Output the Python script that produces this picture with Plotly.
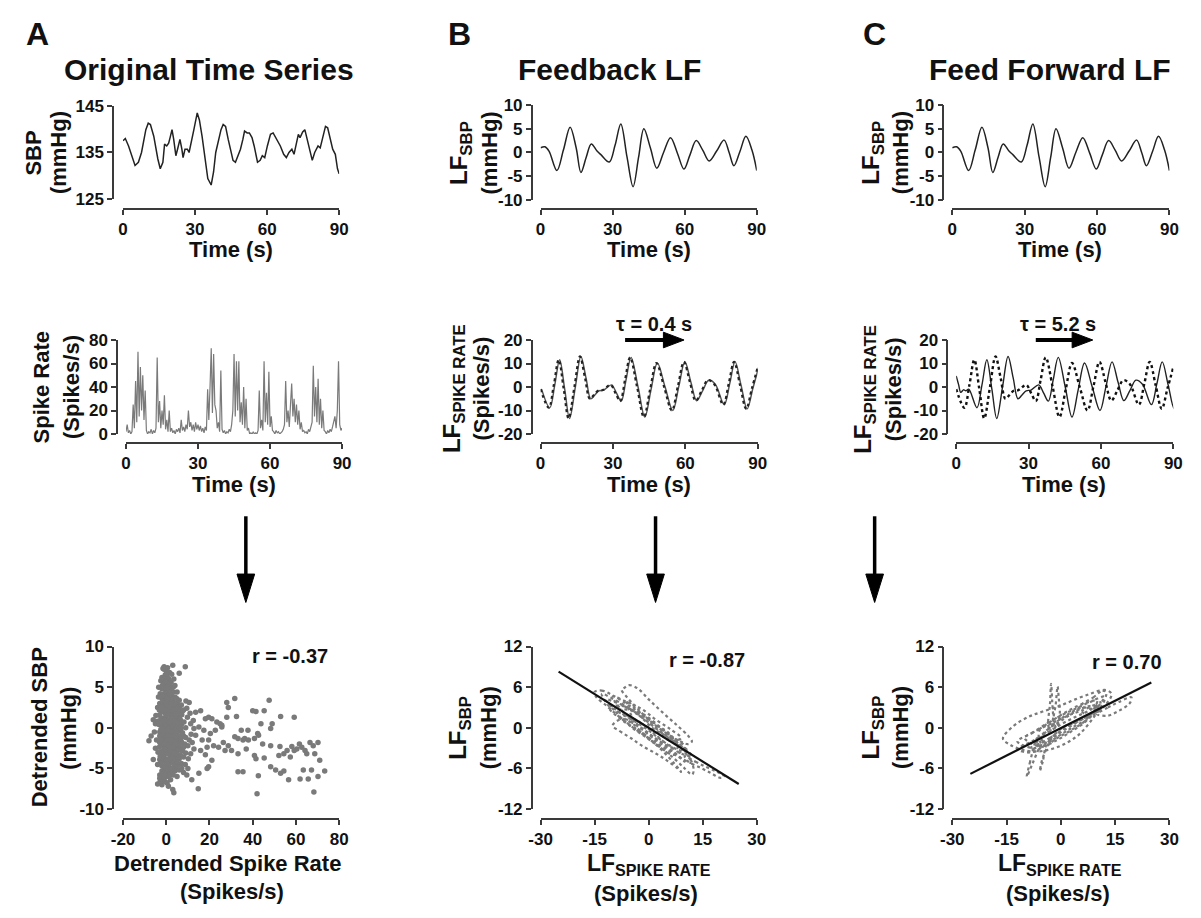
import plotly.graph_objects as go

W, H = 1201, 918
def px(x):
    return x / W
def py(y):
    return 1 - y / H

FONT = "Liberation Sans"
INK = "#111111"
AXC = "#3a3a3a"
GRAY = "#7a7a7a"

# ------------------------------------------------------------------ data
# A, top: original systolic blood pressure (mmHg) vs time (s)
sbp_t = [0, 0.95, 2.3, 5.0, 6.4, 7.7, 9.5, 10.5, 11.4, 12.8, 14.5, 15.5, 16.6, 17.3, 18.2,
         19.0, 19.6, 20.4, 21.1, 22.0, 22.7, 23.7, 24.5, 25.0, 25.8, 26.8, 27.5, 28.5, 29.5,
         30.9, 31.8, 32.9, 34.3, 35.3, 36.7, 37.7, 38.6, 39.7, 40.8, 41.7, 42.7, 43.8, 44.9,
         45.8, 46.8, 47.9, 48.9, 49.9, 50.6, 51.7, 52.6, 53.7, 54.6, 56.0, 57.1, 58.0, 59.0,
         60.1, 61.4, 62.5, 63.5, 64.4, 65.5, 66.9, 68.0, 69.1, 70.3, 71.2, 72.0, 73.0, 73.7,
         74.8, 75.7, 76.7, 77.8, 78.8, 79.8, 81.2, 82.1, 83.2, 84.3, 85.2, 86.2, 87.3, 88.4,
         89.3, 90.0]
sbp = [137.5, 138, 136.4, 132.2, 132.9, 135, 139.9, 141.3, 141, 138.5, 133.6, 131.5, 132.9,
       136.8, 136.4, 137, 138.2, 139.9, 137.8, 134.3, 135.7, 137.8, 135.7, 133.9, 135.7, 135.7,
       135, 137.8, 139.9, 143.5, 142, 138.5, 133, 129.4, 128, 130.8, 135, 137.8, 139.9, 141,
       140.6, 137.8, 135, 133.3, 132.9, 134.3, 135.7, 137.8, 139.6, 139.2, 139.2, 138.2, 136.4,
       132.9, 133.3, 134.3, 133.9, 136.4, 138.9, 139.2, 138.2, 137.5, 136.4, 134.6, 133.9, 135,
       135.7, 134.6, 136.4, 138.9, 138.2, 139.4, 139.9, 137.8, 135, 133.3, 135, 136.4, 136,
       138.5, 140.6, 140.3, 137.8, 135.7, 134.6, 131.5, 130.4]

# B/C, top: low-frequency SBP component (mmHg)
lf_sbp_t = [0, 1.8, 3.5, 6.8, 9.5, 12.3, 14.8, 16.8, 19.0, 21.1, 23.5, 25.2, 28.6, 31.0, 33.4,
            36.0, 38.5, 40.8, 43.0, 45.7, 48.4, 51.2, 54.1, 57.0, 59.7, 62.2, 64.8, 67.5, 70.2,
            73.3, 76.4, 78.5, 80.5, 83.0, 85.5, 88.0, 90.0]
lf_sbp = [1.0, 1.2, 0.3, -3.8, 0.5, 5.3, 1.0, -4.2, -1.0, 1.8, 0.3, -0.5, -2.0, 1.5, 6.0,
          -1.0, -7.2, -1.0, 5.0, 1.0, -3.3, 0.0, 3.1, -0.2, -3.5, -0.5, 2.5, 0.5, -1.8,
          0.3, 2.6, 0.0, -2.8, 0.2, 3.4, 0.5, -3.8]

# A, middle: spike rate (spikes/s), one value every 0.5 s (rows of 5 s)
spike_rate_rows = [
    [2, 8, 1, 3, 0, 2, 25, 5, 45, 10],
    [70, 15, 57, 20, 50, 12, 37, 3, 0, 2],
    [1, 4, 0, 3, 1, 5, 65, 10, 28, 5],
    [20, 8, 33, 4, 12, 2, 20, 2, 5, 1],
    [3, 0, 4, 2, 5, 1, 12, 3, 6, 2],
    [8, 4, 20, 6, 10, 3, 8, 2, 10, 4],
    [8, 3, 7, 2, 5, 1, 6, 3, 38, 12],
    [40, 73, 18, 68, 25, 20, 5, 10, 2, 54],
    [4, 1, 3, 0, 2, 1, 4, 2, 8, 20],
    [68, 15, 62, 20, 62, 10, 27, 8, 40, 5],
    [30, 3, 5, 0, 1, 0, 2, 0, 1, 0],
    [3, 37, 5, 12, 3, 62, 10, 35, 8, 53],
    [6, 15, 3, 2, 0, 3, 1, 2, 0, 1],
    [2, 4, 8, 45, 10, 20, 6, 25, 43, 15],
    [30, 10, 25, 8, 20, 4, 10, 2, 3, 1],
    [2, 0, 4, 2, 6, 10, 58, 15, 40, 10],
    [47, 8, 30, 5, 20, 3, 2, 0, 3, 1],
    [4, 2, 6, 10, 15, 5, 20, 62, 8, 3],
    [5],
]
spike_rate = [v for row in spike_rate_rows for v in row]
spike_t = [i * 0.5 for i in range(len(spike_rate))]

# B/C, middle: low-frequency spike rate (spikes/s)
lf_spike_t = [0.0, 3.4, 5.5, 7.5, 9.6, 11.6, 14.0, 16.3, 18.4, 20.4, 22.0, 23.8, 25.8, 29.0,
              31.0, 33.0, 35.0, 37.1, 40.0, 42.8, 45.4, 48.0, 51.2, 54.4, 56.9, 59.4, 61.9,
              64.3, 66.8, 69.3, 72.0, 75.7, 78.0, 80.2, 82.7, 85.2, 87.6, 90.0]
lf_spike = [-0.9, -8.8, 1.0, 11.6, -1.0, -13.4, 0.0, 13.0, 4.0, -5.0, -3.5, -1.6, -1.3, 0.9,
            -2.5, -6.0, 3.0, 12.6, 0.0, -12.8, -1.0, 10.2, 0.0, -10.0, 0.3, 10.7, 2.0,
            -5.8, -1.5, 2.9, 1.2, -7.5, 1.5, 10.7, 0.7, -9.3, -0.5, 8.4]
tau_b = 0.4
tau_c = 5.2
# start of the shifted trace in C (before the shifted series begins)
lf_spike_c_lead_t = [0.0, 1.0, 1.9, 3.0, 4.0]
lf_spike_c_lead = [4.7, 1.0, -2.3, -1.2, -1.6]

# A, bottom: detrended spike rate vs detrended SBP
scatter_a_points = [
    (-1, 7.5), (0, 7.0), (-0.5, 6.5), (0.5, 6.2), (1, 5.8), (-1, 5.5), (0, 5.2), (2, 5.0),
    (-2, 4.8), (1, 4.5), (3, 4.4), (-1, 4.2), (0.5, 4.0), (4, 3.8), (-2, 3.6), (2, 3.5),
    (0, 3.3), (-3, 3.0), (1, 3.0), (5, 3.0), (3, 2.8), (-1, 2.6), (6, 2.5), (0, 2.4),
    (2, 2.2), (-2, 2.0), (4, 2.0), (8, 2.2), (1, 1.8), (-3, 1.6), (3, 1.5), (0, 1.4),
    (6, 1.3), (-1, 1.2), (2, 1.0), (5, 0.9), (-4, 0.8), (1, 0.6), (4, 0.5), (7, 0.4),
    (-2, 0.3), (0, 0.2), (3, 0.1), (9, 0.0), (-1, -0.1), (2, -0.3), (6, -0.4), (-3, -0.5),
    (1, -0.6), (4, -0.8), (0, -0.9), (8, -1.0), (-2, -1.1), (3, -1.2), (-1, -1.4), (5, -1.5),
    (1, -1.6), (7, -1.7), (-3, -1.8), (2, -2.0), (0, -2.1), (4, -2.3), (-1, -2.4), (6, -2.5),
    (1, -2.7), (-2, -2.9), (3, -3.0), (0, -3.2), (9, -3.1), (-1, -3.4), (2, -3.6), (5, -3.7),
    (-3, -3.9), (1, -4.0), (4, -4.2), (0, -4.5), (-2, -4.7), (3, -4.9), (7, -4.4), (-1, -5.2),
    (2, -5.5), (-3, -5.8), (0, -6.0), (-4, -6.9), (-2, -7.0), (1, -7.2), (3, -7.6), (3.5, -8.0),
    (-1.5, -6.5), (5, -6.0), (8, -5.5), (10, -5.0), (6, -5.2),
    (-8, -1.6), (-7, -1.0), (-6, -3.9), (-5, 0.5), (-5, -2.5), (-6, 1.0), (-4, -4.5), (-4, 2.5),
    (-3.5, 5.0), (-3, -6.2),
    (-2.5, 5.8), (1.5, 6.8), (2.5, 4.0), (-0.5, 3.8), (1.5, 3.2), (-1.5, 2.8), (0.5, 2.6),
    (2.5, 2.5), (4.5, 2.6), (-2.5, 1.2), (-0.5, 1.8), (1.5, 2.0), (3.5, 1.9), (5.5, 1.8),
    (-1.5, 0.6), (0.5, 0.9), (2.5, 0.4), (4.5, 1.2), (6.5, 1.0), (-2.5, -0.2), (-0.5, 0.5),
    (1.5, 0.0), (3.5, -0.3), (5.5, -0.1), (7.5, -0.6), (-1.5, -0.8), (0.5, -1.1), (2.5, -1.0),
    (4.5, -1.3), (6.5, -1.2), (-2.5, -1.5), (-0.5, -1.7), (1.5, -1.9), (3.5, -1.8), (5.5, -2.2),
    (8.5, -2.0), (-1.5, -2.2), (0.5, -2.5), (2.5, -2.6), (4.5, -2.8), (7.5, -2.8), (-2.5, -3.2),
    (-0.5, -3.0), (1.5, -3.3), (3.5, -3.5), (6.5, -3.3), (0.5, -3.9), (2.5, -4.2), (-1.5, -4.1),
    (5.5, -4.6), (-0.5, -4.8), (1.5, -5.0), (4.0, -5.3), (0.5, -5.6), (-2.0, -5.3), (2.0, -6.4),
    (-0.5, -6.6), (0, 5.9), (1, 5.2), (-1, 4.8), (2, 4.6), (0, 4.5), (-1.5, 3.3), (3, 3.5),
    (0, 1.0), (-1, -0.4), (2, 1.5),
    (-2.8, 4.2), (-1.8, 5.2), (-0.8, 6.0), (0.2, 6.6), (1.2, 6.0), (2.2, 5.6), (3.2, 5.0),
    (-2.2, 3.9), (-0.2, 4.9), (0.8, 5.0), (1.8, 4.1), (2.8, 3.2), (3.8, 3.0), (4.8, 3.6),
    (-3.2, 2.2), (-2.2, 2.5), (-1.2, 2.0), (0.2, 2.9), (1.2, 2.5), (2.2, 2.9), (3.2, 2.2),
    (4.2, 1.6), (5.2, 2.3), (6.2, 2.0), (7.2, 1.6), (-3.4, 0.4), (-2.0, 0.9), (-0.8, 0.9),
    (0.8, 1.6), (1.8, 0.7), (2.8, 1.1), (3.8, 0.8), (4.8, 0.2), (5.8, 0.6), (6.8, -0.1),
    (8.2, 0.7), (-3.0, -1.0), (-1.8, -0.1), (-0.2, -0.4), (0.8, -0.2), (1.8, -0.9), (2.8, -0.5),
    (3.8, -1.0), (4.8, -0.6), (5.8, -1.0), (7.0, -1.2), (9.0, -1.2), (-3.2, -2.4), (-2.2, -2.0),
    (-0.8, -2.0), (0.2, -1.5), (1.2, -2.3), (2.2, -1.5), (3.2, -2.3), (4.2, -1.8), (5.2, -2.8),
    (6.2, -2.0), (8.0, -2.4), (10.0, -2.2), (-2.8, -3.5), (-1.8, -3.0), (-0.2, -2.7), (0.8, -3.0),
    (1.8, -2.8), (2.8, -3.8), (3.8, -3.0), (4.8, -3.2), (6.0, -3.8), (8.0, -3.6), (-2.6, -4.4),
    (-1.0, -3.8), (0.2, -4.0), (1.2, -4.5), (2.0, -4.0), (3.2, -4.3), (4.2, -4.8), (5.0, -4.2),
    (-1.8, -5.6), (-0.6, -5.6), (0.8, -5.0), (2.6, -5.0), (3.2, -5.8), (1.2, -6.0), (-1.2, -6.0),
    (0.4, -6.8), (-2.8, -6.6), (-1.0, 7.2), (0.6, 7.4), (-0.4, 5.6), (1.6, 5.4), (-2.0, 6.2),
    (0.5, 3.5), (-0.5, 2.2), (11, 1.8), (12, -1.8), (11.5, -0.8), (12.5, 0.9), (9.5, 2.4),
    (10.2, -3.8), (8.8, -4.5), (7.2, -5.0), (9.5, -5.8), (6, 3.4), (7, 2.8), (5, 4.4), (4, 5.2),
    (3.5, 6.0), (2.5, 6.6), (-4.5, -1.5), (-4.8, 1.5), (-5.5, -0.5), (-3.8, -3.0), (-3.6, 3.8),
    (3.0, 7.7), (6.0, 6.7), (8.8, 7.5), (-1.5, 7.3),
    (28, 3.1), (28.7, 2.5), (31.7, 3.6), (32.5, 1.4), (47.6, 3.4), (40, 2.1), (41.5, 2.0),
    (45.3, 2.1), (52.9, 1.4), (59.2, 1.3), (28, 1.3),
    (25.7, 0.1), (34.7, -0.3), (37.8, -0.3), (43.8, 0.5), (48.3, -0.1), (49, 0.5), (42.3, -0.7),
    (31.7, -1.1), (33.2, -1.3), (35.5, -1.5), (36.3, -1.3), (38, -1.5), (40.8, -1.3), (42.7, -0.9),
    (28.7, -2.2), (30.2, -2.8), (33.2, -3.2), (37, -2.6), (44.6, -2.0), (48.3, -2.2), (52.6, -2.3),
    (55.9, -2.8), (58.1, -2.3), (59.2, -2.8), (61.6, -2.0), (62.7, -2.4), (64.2, -2.8), (66.5, -1.8),
    (68, -2.2), (70.2, -1.8), (65, -3.2), (68.7, -3.2), (52.1, -3.4), (54.4, -3.2), (57.4, -3.6),
    (60.4, -2.6),
    (40.8, -3.4), (41.5, -3.8), (45.3, -3.7), (48.3, -4.8), (50.6, -5.2), (52.9, -5.6), (54.4, -5.3),
    (56.6, -6.4), (63.4, -5.2), (61.9, -6.3), (65.7, -6.3), (67.2, -5.2), (71, -4.0), (73.3, -5.3),
    (70.2, -6.0), (68.3, -7.9), (42, -8.1), (42.6, -5.9), (33.2, -5.4), (35.5, -5.4), (18.1, -3.3),
    (18.9, -5.0), (14.8, -7.5), (11.8, -6.4), (15.1, -5.6), (21.1, -4.0), (19.6, -4.8),
    (13.6, 1.9), (15.9, 2.1), (18.1, 1.1), (19.6, 1.3), (21.1, 1.1), (23.4, 0.7), (24.9, 0.5),
    (25.7, 0.3), (22.7, -0.3), (20.4, -0.7), (17.4, -0.3), (15.1, 0.1), (12.8, -0.1), (13.6, -0.9),
    (16.6, -1.5), (19.6, -1.5), (21.9, -2.2), (24.2, -2.4), (26.4, -1.8), (27.2, -2.8), (18.9, -2.4),
    (15.9, -2.8), (12.8, -2.6), (11.3, -3.2), (10.6, -1.5), (11.3, 0.5), (9.8, 1.3), (10.6, 3.1),
    (9.1, 3.3), (7.6, 2.1),
]
scatter_a_x = [p[0] for p in scatter_a_points]
scatter_a_y = [p[1] for p in scatter_a_points]

# B, bottom: LF spike rate vs LF SBP traced as loops
lf_b_loops_x = [
    [-15, -13, -10, -6, -2, 2, 6, 9, 11.5, 12.5, 12, 10, 7, 3, -1, -5, -9, -12, -14.5, -15],
    [-7, -5.5, -3, 0, 4, 8, 11, 12, 11, 8, 4, 0, -3, -6, -7.5, -7],
    [-10, -8, -5, -2, 2, 5, 8, 9, 7, 4, 1, -2, -5, -8, -10],
    [10, 13, 16, 19, 21, 20, 17, 14, 11, 10],
    [-12, -8, -4, 0, 4, 8, 11, 8, 4, 0, -4, -8, -12],
    [-9, -5, -1, 3, 7, 10, 7, 3, -1, -5, -9],
    [-6, -3, 0, 3, 6, 8, 5, 2, -1, -4, -6],
    [-13, -9, -5, -1, 3, 7, 11, 12, 9, 5, 1, -3, -7, -11, -13],
    [-11, -7, -3, 1, 5, 9, 12, 9, 5, 1, -3, -7, -11],
    [-8, -5, -2, 2, 5, 8, 10, 7, 3, -1, -4, -8],
    [-10, -6, -2, 2, 6, 9, 6, 2, -2, -6, -10],
]
lf_b_loops_y = [
    [5.3, 5.5, 4.8, 3.5, 2.0, 0.5, -1.2, -2.8, -4.5, -6.3, -6.9, -6.0, -4.5, -2.8, -1.2, 0.3, 2.0, 3.4, 4.5, 5.3],
    [5.8, 6.3, 5.8, 4.2, 2.2, 0.3, -1.2, -2.0, -2.4, -1.8, -0.5, 1.2, 2.8, 4.5, 5.6, 5.8],
    [0.3, -0.5, -1.5, -2.6, -3.8, -4.8, -6.0, -6.5, -5.2, -3.5, -2.0, -0.6, 0.8, 1.2, 0.3],
    [-4.2, -5.0, -5.8, -6.5, -7.2, -7.4, -6.6, -5.8, -5.0, -4.2],
    [4.2, 3.5, 2.3, 0.8, -0.8, -2.2, -3.5, -3.2, -2.0, -0.4, 1.0, 2.2, 4.2],
    [2.5, 2.6, 1.6, 0.0, -1.5, -2.8, -4.0, -2.8, -1.3, 0.2, 2.5],
    [4.0, 2.5, 1.5, 0.2, -1.0, -3.0, -2.6, -1.6, -0.5, 1.0, 4.0],
    [5.0, 4.0, 2.8, 1.2, -0.5, -2.0, -3.5, -4.2, -3.8, -2.4, -0.6, 1.0, 2.0, 3.2, 5.0],
    [3.0, 3.2, 2.0, 0.0, -1.3, -3.0, -5.2, -4.5, -3.2, -1.8, -0.3, 1.0, 3.0],
    [1.5, 0.9, -0.2, -1.8, -2.9, -4.0, -5.0, -3.6, -2.0, -0.4, 0.8, 1.5],
    [4.6, 3.8, 2.8, 1.2, -0.2, -1.5, -1.9, -0.5, 0.6, 1.8, 4.6],
]
reg_b_x = [-25, 25]
reg_b_y = [8.3, -8.3]

# C, bottom
lf_c_loops_x = [
    [-16, -13, -9, -5, 0, 4, 8, 11, 12.5, 12, 9, 5, 1, -3, -7, -11, -14, -16],
    [-3.5, -3.0, -2.7, -2.4, -2.2, -3.0, -3.5],
    [-2, -1.4, -0.9, -0.6, -0.3, -1.2, -2],
    [-7, -8.5, -9.4, -8, -6, -5, -6.5, -7],
    [-4, -5, -5.8, -5.2, -3.5, -2.5, -4],
    [10, 13, 16, 19.5, 19, 16, 13, 10],
    [5, 9, 12, 14, 12, 8, 5],
    [-12, -8, -4, 0, 4, 8, 11, 8, 4, 0, -4, -8, -12],
    [-10, -6, -2, 2, 6, 10, 7, 3, -1, -5, -10],
    [-7, -3, 1, 5, 9, 6, 2, -2, -7],
    [-12, -8, -4, 0, 4, 8, 12, 9, 5, 1, -3, -7, -12],
    [-9, -5, -1, 3, 7, 11, 8, 4, 0, -4, -9],
    [-6, -2, 2, 6, 10, 7, 3, -1, -5, -6],
]
lf_c_loops_y = [
    [-1.6, 0.3, 1.6, 2.4, 3.3, 4.2, 5.0, 5.5, 5.3, 4.0, 1.5, -1.0, -2.4, -3.2, -3.5, -3.2, -2.5, -1.6],
    [0.5, 3.5, 6.5, 4.0, 1.0, -0.5, 0.5],
    [1.0, 3.5, 6.1, 4.5, 2.0, 0.0, 1.0],
    [-2, -5, -7.2, -5.5, -3, -2, -1.5, -2],
    [-2.5, -5, -6.4, -4.8, -2.5, -1.5, -2.5],
    [2.0, 3.0, 3.8, 4.5, 3.6, 2.5, 1.8, 2.0],
    [3, 4.5, 5.6, 5.0, 3.2, 1.8, 3],
    [-3.2, -2.0, -0.8, 0.5, 1.6, 2.6, 3.8, 1.5, 0.3, -1.0, -2.4, -3.6, -3.2],
    [-1.5, -0.2, 1.2, 2.5, 3.5, 4.0, 1.2, -0.3, -1.5, -2.8, -1.5],
    [-2.5, -1.5, 0.2, 1.0, 2.5, 3.0, 2.0, 0.5, -2.5],
    [-2.0, -0.8, 0.6, 1.8, 2.8, 3.8, 4.6, 2.4, 1.0, -0.3, -1.8, -3.0, -2.0],
    [-3.6, -2.2, -0.8, 0.6, 1.6, 2.8, 3.2, 2.4, 1.0, -0.4, -3.6],
    [-0.5, 0.8, 1.8, 2.6, 3.4, 1.0, -0.5, -1.8, -2.6, -0.5],
]
reg_c_x = [-25, 25]
reg_c_y = [-6.8, 6.7]

time_ticks = [0, 30, 60, 90]

# ------------------------------------------------------------------ layout of panels
# (x domain px, y domain px, y-axis line x px, x-axis line y px, xrange, yrange, xticks, yticks)
panels = [
    ((113, 333), (99, 194), 103, 204, [0, 90], [125, 145], time_ticks, [125, 135, 145]),
    ((538, 758), (98, 195), 529, 204, [0, 90], [-10, 10], time_ticks, [-10, -5, 0, 5, 10]),
    ((957, 1178), (98, 195), 948, 204, [0, 90], [-10, 10], time_ticks, [-10, -5, 0, 5, 10]),
    ((116, 336), (338, 434), 107, 443, [0, 90], [0, 80], time_ticks, [0, 20, 40, 60, 80]),
    ((538, 759), (338, 434), 529, 443, [0, 90], [-20, 20], time_ticks, [-20, -10, 0, 10, 20]),
    ((961, 1182), (338, 434), 952, 443, [0, 90], [-20, 20], time_ticks, [-20, -10, 0, 10, 20]),
    ((113, 333), (651, 817), 103, 827, [-20, 80], [-10, 10], [-20, 0, 20, 40, 60, 80], [-10, -5, 0, 5, 10]),
    ((538, 758), (651, 817), 529, 827, [-30, 30], [-12, 12], [-30, -15, 0, 15, 30], [-12, -6, 0, 6, 12]),
    ((957, 1178), (651, 817), 948, 827, [-30, 30], [-12, 12], [-30, -15, 0, 15, 30], [-12, -6, 0, 6, 12]),
]

fig = go.Figure()
layout = {}
tickfont = dict(family=FONT, size=17, color=INK, weight="bold")
for i, (xd, yd, ylx, xly, xr, yr, xt, yt) in enumerate(panels, start=1):
    sx = "" if i == 1 else str(i)
    layout["xaxis" + sx] = dict(
        domain=[px(xd[0]), px(xd[1])], range=xr, anchor="free", position=py(xly),
        showline=True, linecolor=AXC, linewidth=1.6, ticks="outside", ticklen=5,
        tickwidth=1.6, tickcolor=AXC, tickvals=xt, ticktext=[str(v) for v in xt],
        tickfont=tickfont, showgrid=False, zeroline=False, fixedrange=True)
    layout["yaxis" + sx] = dict(
        domain=[py(yd[1]), py(yd[0])], range=yr, anchor="free", position=px(ylx),
        showline=True, linecolor=AXC, linewidth=1.6, ticks="outside", ticklen=5,
        tickwidth=1.6, tickcolor=AXC, tickvals=yt, ticktext=[str(v) for v in yt],
        tickfont=tickfont, showgrid=False, zeroline=False, fixedrange=True)

def ax(i):
    s = "" if i == 1 else str(i)
    return dict(xaxis="x" + s, yaxis="y" + s)

# row 1
fig.add_trace(go.Scatter(x=sbp_t, y=sbp, mode="lines", line=dict(color="#222", width=1.5), **ax(1)))
for i in (2, 3):
    fig.add_trace(go.Scatter(x=lf_sbp_t, y=lf_sbp, mode="lines",
                             line=dict(color="#222", width=1.5, shape="spline", smoothing=1.0), **ax(i)))
# row 2
fig.add_trace(go.Scatter(x=spike_t, y=spike_rate, mode="lines", line=dict(color=GRAY, width=1.2), **ax(4)))
fig.add_trace(go.Scatter(x=[t + tau_b for t in lf_spike_t], y=lf_spike, mode="lines",
                         line=dict(color="#555", width=1.5, shape="spline", smoothing=1.0), **ax(5)))
fig.add_trace(go.Scatter(x=lf_spike_t, y=lf_spike, mode="lines",
                         line=dict(color="#222", width=2.2, dash="dot", shape="spline", smoothing=1.0), **ax(5)))
fig.add_trace(go.Scatter(x=lf_spike_c_lead_t + [t + tau_c for t in lf_spike_t],
                         y=lf_spike_c_lead + lf_spike, mode="lines",
                         line=dict(color="#222", width=1.4, shape="spline", smoothing=1.0), **ax(6)))
fig.add_trace(go.Scatter(x=lf_spike_t, y=lf_spike, mode="lines",
                         line=dict(color="#111", width=2.4, dash="dot", shape="spline", smoothing=1.0), **ax(6)))
# row 3
fig.add_trace(go.Scatter(x=scatter_a_x, y=scatter_a_y, mode="markers",
                         marker=dict(color=GRAY, size=5.5), **ax(7)))
for lx, ly in zip(lf_b_loops_x, lf_b_loops_y):
    fig.add_trace(go.Scatter(x=lx, y=ly, mode="lines",
                             line=dict(color=GRAY, width=2.2, dash="dot", shape="spline", smoothing=1.0), **ax(8)))
fig.add_trace(go.Scatter(x=reg_b_x, y=reg_b_y, mode="lines", line=dict(color="#111", width=2.2), **ax(8)))
for lx, ly in zip(lf_c_loops_x, lf_c_loops_y):
    fig.add_trace(go.Scatter(x=lx, y=ly, mode="lines",
                             line=dict(color=GRAY, width=2.2, dash="dot", shape="spline", smoothing=1.0), **ax(9)))
fig.add_trace(go.Scatter(x=reg_c_x, y=reg_c_y, mode="lines", line=dict(color="#111", width=2.2), **ax(9)))

# ------------------------------------------------------------------ text
ann = []
def text(x, y, s, size, angle=0, xanchor="center"):
    ann.append(dict(x=px(x), y=py(y), xref="paper", yref="paper", text="<b>" + s + "</b>",
                    showarrow=False, textangle=angle, xanchor=xanchor, yanchor="middle",
                    font=dict(family=FONT, size=size, color=INK)))

# panel letters and titles
text(26, 26, "A", 32)
text(455, 26, "B", 32)
text(878, 26, "C", 32)
text(200, 62, "Original Time Series", 30)
text(608, 62, "Feedback LF", 30)
text(1056, 62, "Feed Forward LF", 30)

# y-axis titles
text(22, 147, "SBP", 22, -90)
text(48, 147, "(mmHg)", 22, -90)
text(457, 147, "LF<sub>SBP</sub>", 24, -90)
text(486, 147, "(mmHg)", 22, -90)
text(876, 147, "LF<sub>SBP</sub>", 24, -90)
text(905, 147, "(mmHg)", 22, -90)

text(30, 386, "Spike Rate", 22, -90)
text(60, 386, "(Spikes/s)", 22, -90)
text(450, 388, "LF<sub>SPIKE RATE</sub>", 24, -90)
text(478, 388, "(Spikes/s)", 22, -90)
text(868, 388, "LF<sub>SPIKE RATE</sub>", 24, -90)
text(898, 388, "(Spikes/s)", 22, -90)

text(28, 734, "Detrended SBP", 22, -90)
text(58, 734, "(mmHg)", 22, -90)
text(456, 734, "LF<sub>SBP</sub>", 24, -90)
text(485, 734, "(mmHg)", 22, -90)
text(876, 734, "LF<sub>SBP</sub>", 24, -90)
text(905, 734, "(mmHg)", 22, -90)

# x-axis titles
text(223, 246, "Time (s)", 22)
text(648, 246, "Time (s)", 22)
text(1067, 246, "Time (s)", 22)
text(226, 486, "Time (s)", 22)
text(648, 486, "Time (s)", 22)
text(1071, 486, "Time (s)", 22)
text(219, 873, "Detrended Spike Rate", 22)
text(224, 901, "(Spikes/s)", 22)
text(648, 874, "LF<sub>SPIKE RATE</sub>", 23)
text(645, 903, "(Spikes/s)", 22)
text(1067, 874, "LF<sub>SPIKE RATE</sub>", 23)
text(1065, 903, "(Spikes/s)", 22)

# correlation labels and lags
text(283, 661, "r = -0.37", 20)
text(707, 665, "r = -0.87", 20)
text(1135, 667, "r = 0.70", 20)
text(653, 322, "\u03c4 = 0.4 s", 20)
text(1065, 322, "\u03c4 = 5.2 s", 20)

# ------------------------------------------------------------------ arrows
shapes = []
for x in (238, 655, 878):
    shapes.append(dict(type="line", xref="paper", yref="paper", x0=px(x), x1=px(x),
                       y0=py(518), y1=py(582), line=dict(color="#000", width=3.5)))
    shapes.append(dict(type="path", xref="paper", yref="paper",
                       path=f"M {px(x-9)},{py(577)} L {px(x+9)},{py(577)} L {px(x)},{py(606)} Z",
                       fillcolor="#000", line=dict(color="#000", width=1)))
for x0, x1, tip in ((624, 666, 684), (1042, 1082, 1100)):
    shapes.append(dict(type="line", xref="paper", yref="paper", x0=px(x0), x1=px(x1),
                       y0=py(338), y1=py(338), line=dict(color="#000", width=4)))
    shapes.append(dict(type="path", xref="paper", yref="paper",
                       path=f"M {px(x1-3)},{py(330)} L {px(x1-3)},{py(346)} L {px(tip)},{py(338)} Z",
                       fillcolor="#000", line=dict(color="#000", width=1)))

fig.update_layout(
    width=W, height=H, margin=dict(l=0, r=0, t=0, b=0),
    paper_bgcolor="white", plot_bgcolor="white", showlegend=False,
    annotations=ann, shapes=shapes, **layout)

fig.write_html("out.html", config={"displayModeBar": False})
